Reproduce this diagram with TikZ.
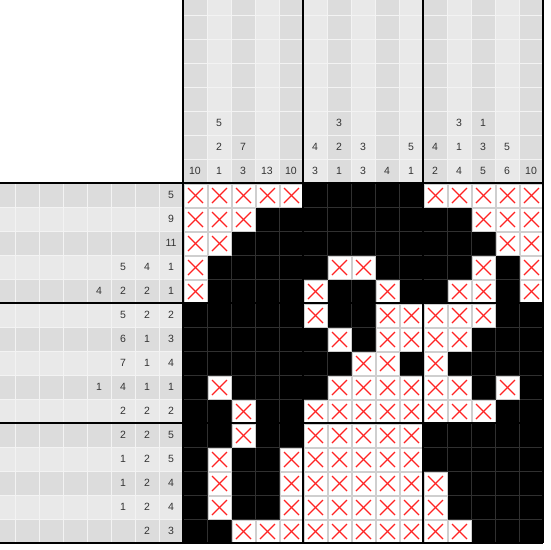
\documentclass[tikz,border=0pt]{standalone}
\usepackage{fontspec}
\setmainfont{Liberation Sans}
\definecolor{cdark}{HTML}{DCDCDC}
\definecolor{clight}{HTML}{E9E9E9}
\definecolor{sep}{HTML}{F3F3F3}
\definecolor{txt}{HTML}{333333}
\definecolor{gline}{HTML}{303030}
\definecolor{wline}{HTML}{CFCFCF}
\definecolor{xred}{HTML}{FF2424}
\tikzset{
  clue/.style={font=\fontsize{10.5}{12}\selectfont, text=txt, inner sep=0pt, anchor=center},
  thick line/.style={line width=2pt, black},
  crossmark/.style={xred, line width=1.2pt},
  whitecell/.style={fill=white, draw=wline, line width=1pt}
}
\begin{document}
\begin{tikzpicture}[x=1pt,y=-1pt]
\useasboundingbox (0,0) rectangle (550,550);
% top clue shading
\foreach \i in {1,...,15}{
  \pgfmathsetmacro{\xa}{183+24*(\i-1)}
  \ifodd\i \def\cc{cdark}\else\def\cc{clight}\fi
  \fill[\cc] (\xa,0) rectangle ++(24,183);
}
% left clue shading
\foreach \i in {1,...,15}{
  \pgfmathsetmacro{\ya}{183+24*(\i-1)}
  \ifodd\i \def\cc{cdark}\else\def\cc{clight}\fi
  \fill[\cc] (0,\ya) rectangle ++(183,24);
}
% clue separators
\foreach \k in {0,...,6}{
  \draw[sep, line width=1pt] (183,15+24*\k) -- (543,15+24*\k);
  \draw[sep, line width=1pt] (15+24*\k,183) -- (15+24*\k,543);
}
\foreach \i in {1,...,14}{
  \draw[sep, line width=0.6pt] (183+24*\i,0) -- (183+24*\i,183);
  \draw[sep, line width=0.6pt] (0,183+24*\i) -- (183,183+24*\i);
}
% grid
\fill[black] (183,183) rectangle (543,543);
\foreach \i in {1,...,14}{
  \draw[gline, line width=1pt] (183+24*\i,183) -- (183+24*\i,543);
  \draw[gline, line width=1pt] (183,183+24*\i) -- (543,183+24*\i);
}
\foreach \r/\cols in {
  1/{1,2,3,4,5,11,12,13,14,15},
  2/{1,2,3,13,14,15},
  3/{1,2,14,15},
  4/{1,7,8,13,15},
  5/{1,6,9,12,13,15},
  6/{6,9,10,11,12,13},
  7/{7,9,10,11,12},
  8/{8,9,11},
  9/{2,7,8,9,10,11,12,14},
  10/{3,6,7,8,9,10,11,12,13},
  11/{3,6,7,8,9,10},
  12/{2,5,6,7,8,9,10},
  13/{2,5,6,7,8,9,10,11},
  14/{2,5,6,7,8,9,10,11},
  15/{3,4,5,6,7,8,9,10,11,12}}{
  \foreach \c in \cols {
    \pgfmathsetmacro{\xa}{183+24*(\c-1)}
    \pgfmathsetmacro{\ya}{183+24*(\r-1)}
    \draw[whitecell] (\xa+1,\ya+1) rectangle ++(23,23);
    \draw[crossmark] (\xa+5,\ya+5) -- ++(15,15);
    \draw[crossmark] (\xa+20,\ya+5) -- ++(-15,15);
  }
}
% column clues
\foreach \c/\k/\v in {1/1/10, 2/1/1, 2/2/2, 2/3/5, 3/1/3, 3/2/7, 4/1/13, 5/1/10,
  6/1/3, 6/2/4, 7/1/1, 7/2/2, 7/3/3, 8/1/3, 8/2/3, 9/1/4, 10/1/1, 10/2/5,
  11/1/2, 11/2/4, 12/1/4, 12/2/1, 12/3/3, 13/1/5, 13/2/3, 13/3/1, 14/1/6,
  14/2/5, 15/1/10}{
  \node[clue] (cc\c-\k) at (183+24*\c-12, 183-24*\k+12) {\v};
}
% row clues
\foreach \r/\k/\v in {1/1/5, 2/1/9, 3/1/11, 4/1/1, 4/2/4, 4/3/5, 5/1/1, 5/2/2,
  5/3/2, 5/4/4, 6/1/2, 6/2/2, 6/3/5, 7/1/3, 7/2/1, 7/3/6, 8/1/4, 8/2/1, 8/3/7,
  9/1/1, 9/2/1, 9/3/4, 9/4/1, 10/1/2, 10/2/2, 10/3/2, 11/1/5, 11/2/2, 11/3/2,
  12/1/5, 12/2/2, 12/3/1, 13/1/4, 13/2/2, 13/3/1, 14/1/4, 14/2/2, 14/3/1,
  15/1/3, 15/2/2}{
  \node[clue] (rc\r-\k) at (183-24*\k+12, 183+24*\r-12) {\v};
}
% thick lines
\foreach \p in {183,303,423,543}{
  \draw[thick line] (\p,0) -- (\p,543);
  \draw[thick line] (0,\p) -- (543,\p);
}
\end{tikzpicture}
\end{document}
